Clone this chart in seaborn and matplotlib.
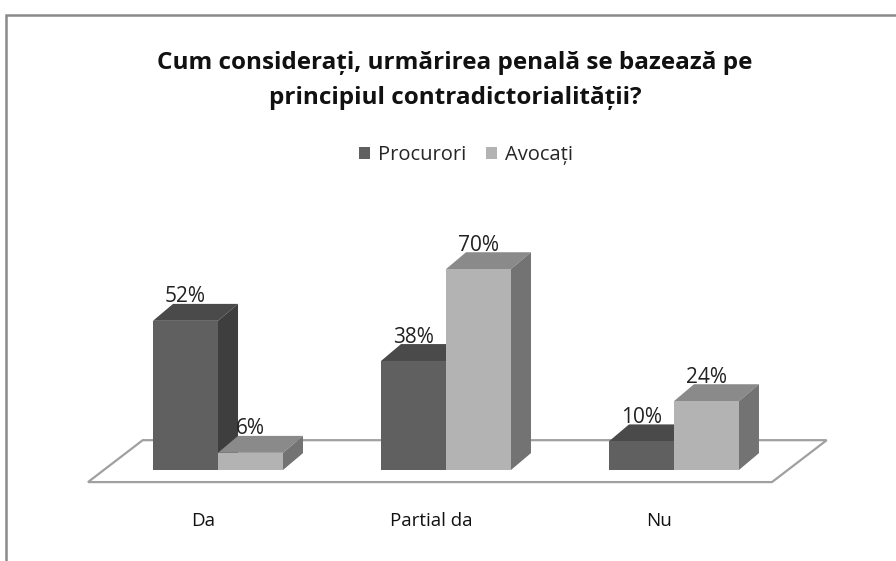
import matplotlib
matplotlib.use('Agg')
import matplotlib.pyplot as plt
from matplotlib.patches import Polygon, Rectangle
import seaborn as sns
import pandas as pd

# data
answers = ['Da', 'Partial da', 'Nu']
groups = ['Procurori', 'Avocați']
procurori = [52, 38, 10]
avocati = [6, 70, 24]

title = 'Cum considerați, urmărirea penală se bazează pe\nprincipiul contradictorialității?'

# front / top / side shades for each group
front_colors = ['#606060', '#b3b3b3']
top_colors = ['#4a4a4a', '#8a8a8a']
side_colors = ['#3e3e3e', '#737373']

df = pd.DataFrame({
    'answer': answers * 2,
    'group': [groups[0]] * 3 + [groups[1]] * 3,
    'value': procurori + avocati,
})

sns.set_theme(style='white')
plt.rcParams['font.family'] = ['Open Sans', 'DejaVu Sans']

fig = plt.figure(figsize=(8.96, 5.61), dpi=100)
ax = fig.add_axes([0, 0, 1, 1])

sns.barplot(data=df, x='answer', y='value', hue='group', hue_order=groups,
            palette=front_colors, width=0.57, gap=0, legend=False, ax=ax,
            edgecolor='none', linewidth=0)

ax.set_xlim(-0.956, 2.974)
ax.set_ylim(-31.7, 163.8)
ax.set_axis_off()

# pseudo 3D depth (data units)
dx, dy = 0.088, 5.9

# floor under the bars
n = len(answers)
floor = Polygon([(-0.57, -4.2), (n - 1 + 0.43, -4.2), (n - 1 + 0.67, 10.4), (-0.33, 10.4)],
                closed=True, facecolor='white', edgecolor='#a0a0a0', lw=1.6, zorder=1)
ax.add_patch(floor)

for k, cont in enumerate(ax.containers):
    for bar in cont:
        x0 = bar.get_x()
        w = bar.get_width()
        h = bar.get_height()
        x1 = x0 + w
        bar.set_zorder(3 + 2 * k)
        top = Polygon([(x0, h), (x1, h), (x1 + dx, h + dy), (x0 + dx, h + dy)],
                      closed=True, facecolor=top_colors[k], edgecolor='none', zorder=2 + 2 * k)
        side = Polygon([(x1, 0), (x1 + dx, dy), (x1 + dx, h + dy), (x1, h)],
                       closed=True, facecolor=side_colors[k], edgecolor='none', zorder=2 + 2 * k)
        ax.add_patch(top)
        ax.add_patch(side)
        ax.text(x0 + w / 2, h + 6.4, f'{h:.0f}%', ha='center', va='baseline',
                fontsize=15, color='#222222', zorder=10)

for i, lab in enumerate(answers):
    ax.text(i - 0.065, -17.8, lab, ha='center', va='center', fontsize=13.5, color='#111111')

ax.text(0.508, 0.857, title, transform=ax.transAxes, ha='center', va='center',
        fontsize=17.5, fontweight='bold', color='#111111', linespacing=1.6)

ax.legend(ax.containers, groups, loc='center', bbox_to_anchor=(0.52, 0.724),
          ncol=2, frameon=False, fontsize=14.5, handlelength=0.55, handleheight=0.55,
          handletextpad=0.4, columnspacing=1.0)

# chart frame
fig.patches.append(Rectangle((6 / 896, -0.05), 1.0, 1 - 15 / 561 + 0.05,
                             transform=fig.transFigure, fill=False,
                             edgecolor='#8a8a8a', lw=1.8, zorder=0))

fig.savefig('out.png', dpi=100)
